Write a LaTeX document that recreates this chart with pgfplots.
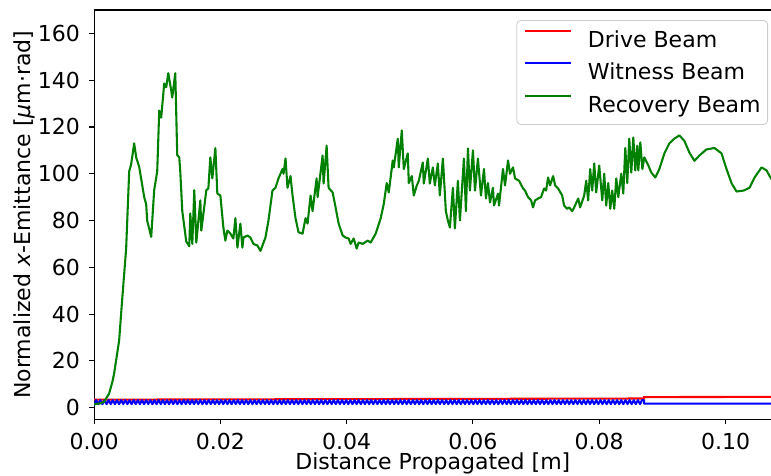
\documentclass[border=0pt]{standalone}
\usepackage{fontspec}
\setmainfont{DejaVu Sans}
\usepackage{pgfplots}
\pgfplotsset{compat=1.18}
\definecolor{mplgreen}{HTML}{008000}
\definecolor{mplred}{HTML}{FF0000}
\definecolor{mplblue}{HTML}{0000FF}
\begin{document}
\begin{tikzpicture}
\begin{axis}[
  scale only axis, width=338.5pt, height=204.5pt,
  xmin=0, xmax=0.1073, ymin=-5, ymax=170,
  font=\fontsize{11}{13.2}\selectfont,
  /pgf/number format/assume math mode=true,
  xtick={0,0.02,0.04,0.06,0.08,0.10},
  ytick={0,20,40,60,80,100,120,140,160},
  scaled x ticks=false,
  xticklabel={\pgfmathprintnumber[fixed,fixed zerofill,precision=2]{\tick}},
  tick align=outside, tick pos=left, major tick length=2.4pt,
  every tick/.style={black, line width=0.55pt},
  axis line style={line width=0.55pt},
  xticklabel style={anchor=base, inner sep=0pt, yshift=-12.8pt},
  yticklabel style={anchor=east, inner sep=0pt, xshift=-4.5pt},
  xlabel={Distance Propagated [m]},
  ylabel={Normalized \textit{x}-Emittance [\textit{μ}m·rad]},
  every axis x label/.style={at={(axis description cs:0.5,-0.1235)}, anchor=base, inner sep=0pt},
  every axis y label/.style={at={(axis description cs:-0.1034,0.5)}, anchor=center, rotate=90, inner sep=0pt},
  legend style={at={(rel axis cs:0,1)}, anchor=north west, xshift=211pt, yshift=-5pt,
    draw=black!20, fill=white, rounded corners=2pt, inner xsep=3.5pt, inner ysep=2pt,
    row sep=0.75pt, column sep=8pt,
    nodes={inner sep=0pt, text height=11.35pt, text depth=4.15pt}},
  legend cell align=left,
  legend image code/.code={\draw[#1] (0pt,4.6pt) -- (23pt,4.6pt);},
]
\addplot[mplred, line width=1.04pt] coordinates {(0,3.4)(0.0871,3.9)(0.0871,4.5)(0.1080,4.6)};
\addlegendentry{Drive Beam}
\addplot[mplblue, line width=1.04pt, line join=round] coordinates {
(0,1.0)(0.00033,3.2)(0.00066,1.5)(0.00099,3.2)(0.00132,1.5)(0.00165,3.2)(0.00198,1.5)(0.00231,3.2)(0.00264,1.5)(0.00297,3.2)
(0.0033,1.5)(0.00363,3.2)(0.00396,1.5)(0.00429,3.2)(0.00462,1.5)(0.00495,3.2)(0.00528,1.5)(0.00561,3.2)(0.00594,1.5)(0.00627,3.2)
(0.0066,1.5)(0.00693,3.2)(0.00726,1.5)(0.00759,3.2)(0.00792,1.5)(0.00825,3.2)(0.00858,1.5)(0.00891,3.2)(0.00924,1.5)(0.00957,3.2)
(0.0099,1.5)(0.01023,3.2)(0.01056,1.5)(0.01089,3.2)(0.01122,1.5)(0.01155,3.2)(0.01188,1.5)(0.01221,3.2)(0.01254,1.5)(0.01287,3.2)
(0.0132,1.5)(0.01353,3.2)(0.01386,1.5)(0.01419,3.2)(0.01452,1.5)(0.01485,3.2)(0.01518,1.5)(0.01551,3.2)(0.01584,1.5)(0.01617,3.2)
(0.0165,1.5)(0.01683,3.2)(0.01716,1.5)(0.01749,3.2)(0.01782,1.5)(0.01815,3.2)(0.01848,1.5)(0.01881,3.2)(0.01914,1.5)(0.01947,3.2)
(0.0198,1.5)(0.02013,3.2)(0.02046,1.5)(0.02079,3.2)(0.02112,1.5)(0.02145,3.2)(0.02178,1.5)(0.02211,3.2)(0.02244,1.5)(0.02277,3.2)
(0.0231,1.5)(0.02343,3.2)(0.02376,1.5)(0.02409,3.2)(0.02442,1.5)(0.02475,3.2)(0.02508,1.5)(0.02541,3.2)(0.02574,1.5)(0.02607,3.2)
(0.0264,1.5)(0.02673,3.2)(0.02706,1.5)(0.02739,3.2)(0.02772,1.5)(0.02805,3.2)(0.02838,1.5)(0.02871,3.2)(0.02904,1.5)(0.02937,3.2)
(0.0297,1.5)(0.03003,3.2)(0.03036,1.5)(0.03069,3.2)(0.03102,1.5)(0.03135,3.2)(0.03168,1.5)(0.03201,3.2)(0.03234,1.5)(0.03267,3.2)
(0.033,1.5)(0.03333,3.2)(0.03366,1.5)(0.03399,3.2)(0.03432,1.5)(0.03465,3.2)(0.03498,1.5)(0.03531,3.2)(0.03564,1.5)(0.03597,3.2)
(0.0363,1.5)(0.03663,3.2)(0.03696,1.5)(0.03729,3.2)(0.03762,1.5)(0.03795,3.2)(0.03828,1.5)(0.03861,3.2)(0.03894,1.5)(0.03927,3.2)
(0.0396,1.5)(0.03993,3.2)(0.04026,1.5)(0.04059,3.2)(0.04092,1.5)(0.04125,3.2)(0.04158,1.5)(0.04191,3.2)(0.04224,1.5)(0.04257,3.2)
(0.0429,1.5)(0.04323,3.2)(0.04356,1.5)(0.04389,3.2)(0.04422,1.5)(0.04455,3.2)(0.04488,1.5)(0.04521,3.2)(0.04554,1.5)(0.04587,3.2)
(0.0462,1.5)(0.04653,3.2)(0.04686,1.5)(0.04719,3.2)(0.04752,1.5)(0.04785,3.2)(0.04818,1.5)(0.04851,3.2)(0.04884,1.5)(0.04917,3.2)
(0.0495,1.5)(0.04983,3.2)(0.05016,1.5)(0.05049,3.2)(0.05082,1.5)(0.05115,3.2)(0.05148,1.5)(0.05181,3.2)(0.05214,1.5)(0.05247,3.2)
(0.0528,1.5)(0.05313,3.2)(0.05346,1.5)(0.05379,3.2)(0.05412,1.5)(0.05445,3.2)(0.05478,1.5)(0.05511,3.2)(0.05544,1.5)(0.05577,3.2)
(0.0561,1.5)(0.05643,3.2)(0.05676,1.5)(0.05709,3.2)(0.05742,1.5)(0.05775,3.2)(0.05808,1.5)(0.05841,3.2)(0.05874,1.5)(0.05907,3.2)
(0.0594,1.5)(0.05973,3.2)(0.06006,1.5)(0.06039,3.2)(0.06072,1.5)(0.06105,3.2)(0.06138,1.5)(0.06171,3.2)(0.06204,1.5)(0.06237,3.2)
(0.0627,1.5)(0.06303,3.2)(0.06336,1.5)(0.06369,3.2)(0.06402,1.5)(0.06435,3.2)(0.06468,1.5)(0.06501,3.2)(0.06534,1.5)(0.06567,3.2)
(0.066,1.5)(0.06633,3.2)(0.06666,1.5)(0.06699,3.2)(0.06732,1.5)(0.06765,3.2)(0.06798,1.5)(0.06831,3.2)(0.06864,1.5)(0.06897,3.2)
(0.0693,1.5)(0.06963,3.2)(0.06996,1.5)(0.07029,3.2)(0.07062,1.5)(0.07095,3.2)(0.07128,1.5)(0.07161,3.2)(0.07194,1.5)(0.07227,3.2)
(0.0726,1.5)(0.07293,3.2)(0.07326,1.5)(0.07359,3.2)(0.07392,1.5)(0.07425,3.2)(0.07458,1.5)(0.07491,3.2)(0.07524,1.5)(0.07557,3.2)
(0.0759,1.5)(0.07623,3.2)(0.07656,1.5)(0.07689,3.2)(0.07722,1.5)(0.07755,3.2)(0.07788,1.5)(0.07821,3.2)(0.07854,1.5)(0.07887,3.2)
(0.0792,1.5)(0.07953,3.2)(0.07986,1.5)(0.08019,3.2)(0.08052,1.5)(0.08085,3.2)(0.08118,1.5)(0.08151,3.2)(0.08184,1.5)(0.08217,3.2)
(0.0825,1.5)(0.08283,3.2)(0.08316,1.5)(0.08349,3.2)(0.08382,1.5)(0.08415,3.2)(0.08448,1.5)(0.08481,3.2)(0.08514,1.5)(0.08547,3.2)
(0.0858,1.5)(0.08613,3.2)(0.08646,1.5)(0.08679,3.2)(0.0871,3.2)(0.0871,1.7)(0.1080,1.7)};
\addlegendentry{Witness Beam}
\addplot[mplgreen, line width=1.04pt, line join=round] coordinates {
(0,1.5)(0.00095,1.8)(0.00159,2.5)(0.00238,6)(0.00290,11)(0.00317,14.5)(0.00397,28.7)(0.00444,45.8)(0.00508,68)
(0.00556,101)(0.00587,104)(0.00635,113)(0.00667,107)(0.00714,103)(0.00794,90)(0.00825,87)(0.00841,80)(0.00905,73)
(0.00952,93)(0.01000,101)(0.01032,127)(0.01063,124)(0.01111,138.6)(0.01143,137)(0.01175,143)(0.01222,135.6)(0.01238,132.6)
(0.01286,143)(0.01317,108)(0.01349,107)(0.01365,101)(0.01397,84)(0.01460,71)(0.01508,69)(0.01524,83)(0.01556,70)
(0.01587,93)(0.01619,70.6)(0.01683,88.6)(0.01698,75.7)(0.01778,93)(0.01810,93.7)(0.01841,107)(0.01873,98)(0.01921,111)
(0.01952,91.5)(0.02000,90.7)(0.02048,77)(0.02079,71.4)(0.02111,75.7)(0.02159,74.4)(0.02206,72.3)(0.02238,81)(0.02270,68.4)
(0.02317,78.7)(0.02349,68.4)(0.02365,72.7)(0.02429,73.6)(0.02476,72.7)(0.02524,70)(0.02587,69.3)(0.02635,67)(0.02714,72.7)
(0.02762,80)(0.02825,92.8)(0.02873,94)(0.02921,98)(0.02984,102)(0.03000,100)(0.03032,106.5)(0.03063,94)(0.03111,99)
(0.03143,90.7)(0.03190,81)(0.03238,75)(0.03302,74.4)(0.03349,81)(0.03381,78.7)(0.03429,90.7)(0.03460,84)(0.03524,98)
(0.03540,90)(0.03619,107.8)(0.03635,95.8)(0.03683,112)(0.03714,94)(0.03778,92)(0.03825,85.6)(0.03873,78.7)(0.03937,73.6)
(0.03984,72.7)(0.04032,72.3)(0.04063,70)(0.04111,72.3)(0.04159,68)(0.04190,70.6)(0.04254,70)(0.04333,71.4)(0.04381,70.6)
(0.04460,74.4)(0.04540,81)(0.04587,87)(0.04635,96)(0.04667,92)(0.04730,105.7)(0.04746,102.7)(0.04810,115)(0.04825,102.7)
(0.04873,118.5)(0.04905,102)(0.04968,108.7)(0.04984,96)(0.05032,99)(0.05063,90.7)(0.05111,95)(0.05143,97)(0.05206,104.8)
(0.05222,95.8)(0.05286,106.5)(0.05317,95.8)(0.05365,102.7)(0.05397,95)(0.05444,104.4)(0.05476,90.7)(0.05524,106.5)(0.05571,84)
(0.05603,80)(0.05635,77)(0.05683,94)(0.05714,76.6)(0.05762,97)(0.05794,80)(0.05857,106.5)(0.05889,84)(0.05921,110.8)
(0.05952,92.8)(0.06000,110)(0.06032,92.8)(0.06079,106.5)(0.06127,90.7)(0.06175,102)(0.06206,89.4)(0.06238,96)(0.06270,87.7)
(0.06317,94)(0.06333,86.4)(0.06397,91.5)(0.06413,86.4)(0.06476,102)(0.06508,95)(0.06556,105.7)(0.06587,100)(0.06635,102.7)
(0.06667,98)(0.06730,97)(0.06794,93.7)(0.06825,92.8)(0.06873,90)(0.06921,88.6)(0.06952,85.6)(0.06984,88.6)(0.07032,89.4)
(0.07079,90)(0.07127,93.7)(0.07159,92.8)(0.07190,98.4)(0.07222,95)(0.07270,99)(0.07302,95)(0.07349,93.7)(0.07413,90.7)
(0.07444,86.4)(0.07492,85)(0.07524,85.6)(0.07571,84)(0.07603,85.6)(0.07667,89.4)(0.07698,85.6)(0.07762,90.7)(0.07794,97)
(0.07825,88.6)(0.07857,102)(0.07889,92.8)(0.07921,104.4)(0.07952,92)(0.08000,103.5)(0.08048,88.6)(0.08079,100)(0.08111,86.4)
(0.08143,96)(0.08175,85)(0.08206,92.8)(0.08238,85)(0.08270,98)(0.08302,90)(0.08349,100)(0.08381,91.5)(0.08413,111)
(0.08444,96)(0.08476,115)(0.08508,100.5)(0.08540,115.5)(0.08571,101.4)(0.08603,112)(0.08619,101.4)(0.08651,113.4)(0.08683,102)
(0.08714,107)(0.08778,103.5)(0.08825,100.5)(0.08889,98.4)(0.08952,102)(0.09032,108.7)(0.09111,113)(0.09190,115)(0.09270,116.4)
(0.09349,114)(0.09429,109)(0.09508,105.5)(0.09587,107.8)(0.09698,110.4)(0.09825,111)(0.09937,108.7)(0.10016,102)(0.10095,96)
(0.10175,92.4)(0.10286,92.8)(0.10381,94)(0.10460,98.4)(0.10571,102.7)(0.10651,101.4)(0.10698,99)(0.10746,97)(0.10810,94)};
\addlegendentry{Recovery Beam}
\end{axis}
\pgfresetboundingbox
\path (-47pt,-28pt) rectangle (338.2pt,209.5pt);
\end{tikzpicture}
\end{document}
